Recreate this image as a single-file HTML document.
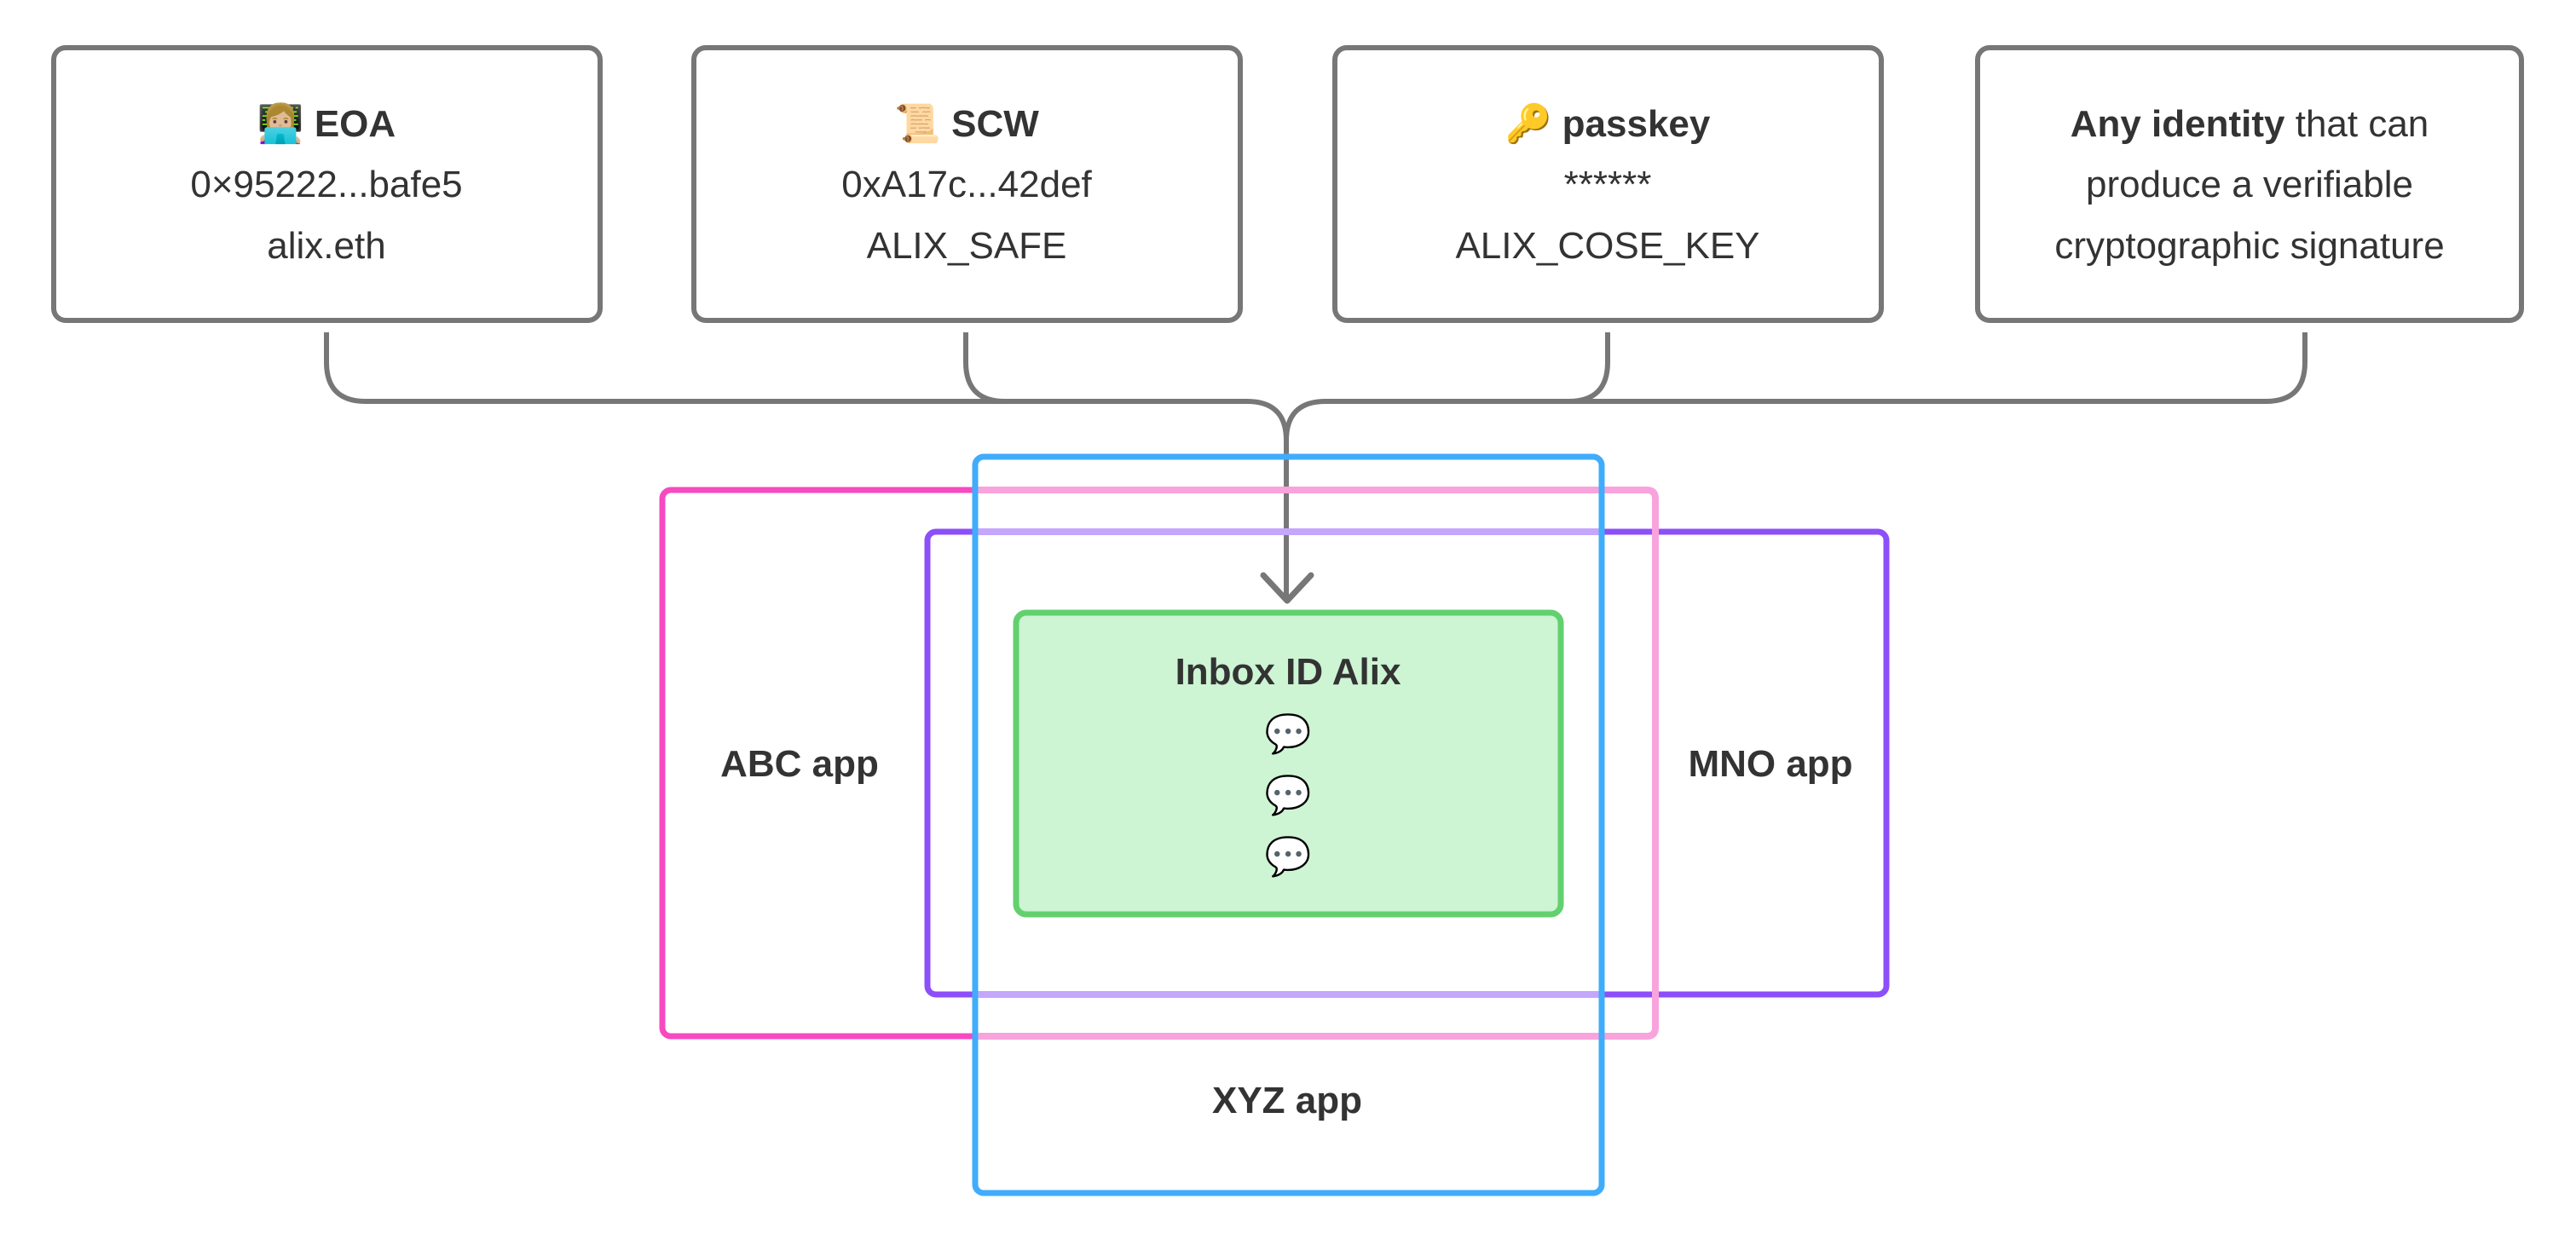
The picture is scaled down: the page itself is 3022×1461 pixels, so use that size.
<!DOCTYPE html>
<html><head><meta charset="utf-8"><style>
html,body{margin:0;padding:0;background:#fff;}
svg{display:block;}
text{font-family:"Liberation Sans","DejaVu Sans",sans-serif;fill:#333;}
</style></head><body>
<svg width="3022" height="1461" viewBox="0 0 3022 1461" xmlns="http://www.w3.org/2000/svg">
<rect width="3022" height="1461" fill="#fff"/>
<g fill="none" stroke="#777" stroke-width="6">
<rect x="63" y="56" width="641" height="320" rx="14"/>
<rect x="814" y="56" width="641" height="320" rx="14"/>
<rect x="1566" y="56" width="641" height="320" rx="14"/>
<rect x="2320" y="56" width="638" height="320" rx="14"/>
<path d="M383 390 V425 Q383 471 429 471 H1463 Q1509 471 1509 517 V703"/>
<path d="M1133 390 V425 Q1133 471 1179 471"/>
<path d="M1886 390 V425 Q1886 471 1840 471 H1555 Q1509 471 1509 517"/>
<path d="M2704 390 V425 Q2704 471 2658 471 H1840"/>
<path d="M1482 675 L1510 705 L1538 675" stroke-width="7" stroke-linecap="round" stroke-linejoin="round"/>
</g>
<g font-size="44" text-anchor="middle">
<text x="383" y="160" font-weight="bold">👩🏼‍💻 EOA</text>
<text x="383" y="231">0×95222...bafe5</text>
<text x="383" y="303">alix.eth</text>
<text x="1134" y="160" font-weight="bold">📜 SCW</text>
<text x="1134" y="231">0xA17c...42def</text>
<text x="1134" y="303">ALIX_SAFE</text>
<text x="1886" y="160" font-weight="bold">🔑 passkey</text>
<text x="1886" y="231">******</text>
<text x="1886" y="303">ALIX_COSE_KEY</text>
<text x="2639" y="160"><tspan font-weight="bold">Any identity</tspan> that can</text>
<text x="2639" y="231">produce a verifiable</text>
<text x="2639" y="303">cryptographic signature</text>
</g>
<g fill="none" stroke-width="7">
<rect x="777" y="575" width="1165" height="641" rx="10" stroke="#f64ac0"/>
<rect x="1088" y="624" width="1125" height="543" rx="10" stroke="#8c4ffa"/>
<path d="M1147 575 H1932 Q1942 575 1942 585 V1206 Q1942 1216 1932 1216 H1147" stroke="#f9a3dc" stroke-width="8"/>
<path d="M1147 624 H1876 M1147 1167 H1876" stroke="#c4a7fc" stroke-width="8"/>
<rect x="1144" y="536" width="735" height="864" rx="10" stroke="#40acfb"/>
</g>
<rect x="1192" y="719" width="639" height="354" rx="12" fill="#cdf4d3" stroke="#63d06f" stroke-width="7"/>
<g font-size="44" font-weight="bold" text-anchor="middle">
<text x="938" y="911">ABC app</text>
<text x="2077" y="911">MNO app</text>
<text x="1510" y="1306">XYZ app</text>
<text x="1511" y="803">Inbox ID Alix</text>
</g>
<g font-size="44" text-anchor="middle">
<text x="1511" y="876">💬</text>
<text x="1511" y="948">💬</text>
<text x="1511" y="1020">💬</text>
</g>
</svg>
</body></html>
